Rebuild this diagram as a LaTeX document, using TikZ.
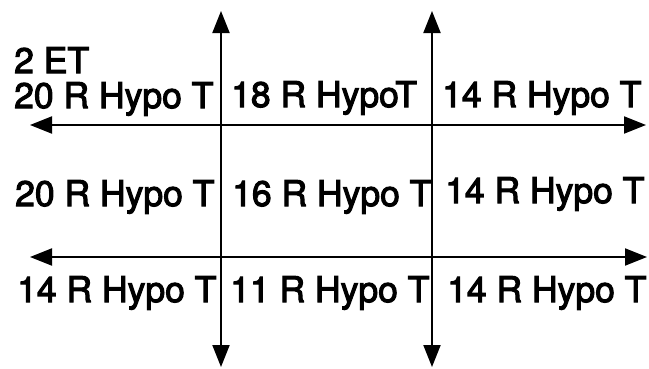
\documentclass[tikz,border=0pt]{standalone}
\usepackage{fontspec}
\setmainfont{TeX Gyre Heros}
\newfontfamily\heavysans{TeX Gyre Heros}[FakeBold=3]
\usetikzlibrary{arrows.meta}
\tikzset{
  lbl/.style={anchor=base west, inner sep=0pt, font=\heavysans\fontsize{35.5bp}{40bp}\selectfont},
  biaxis/.style={line width=2bp, {Triangle[length=22bp, width=17bp]}-{Triangle[length=22bp, width=17bp]}}
}
\begin{document}
\begin{tikzpicture}[x=1bp, y=-1bp]
  \useasboundingbox (0,0) rectangle (649,368);

  % end points of the two vertical and two horizontal axes
  \coordinate (v1top) at (221,11);
  \coordinate (v1bot) at (221,367);
  \coordinate (v2top) at (432,11);
  \coordinate (v2bot) at (432,367);
  \coordinate (h1left) at (30,125);
  \coordinate (h1right) at (646,125);
  \coordinate (h2left) at (30,257);
  \coordinate (h2right) at (647,257);

  \draw[biaxis] (v1bot) -- (v1top);
  \draw[biaxis] (v2bot) -- (v2top);
  \draw[biaxis] (h1left) -- (h1right);
  \draw[biaxis] (h2left) -- (h2right);

  % labels
  \node[lbl] (et) at (14,73) {2 ET};
  \node[lbl] (a1) at (14,108) {20 R Hypo T};
  \node[lbl] (b1) at (231,107) {18 R HypoT};
  \node[lbl] (c1) at (442,107) {14 R Hypo T};

  \node[lbl] (a2) at (15,206) {20 R Hypo T};
  \node[lbl] (b2) at (232,206) {16 R Hypo T};
  \node[lbl] (c2) at (445,203) {14 R Hypo T};

  \node[lbl] (a3) at (17,302) {14 R Hypo T};
  \node[lbl] (b3) at (230,302) {11 R Hypo T};
  \node[lbl] (c3) at (447,302) {14 R Hypo T};
\end{tikzpicture}
\end{document}
